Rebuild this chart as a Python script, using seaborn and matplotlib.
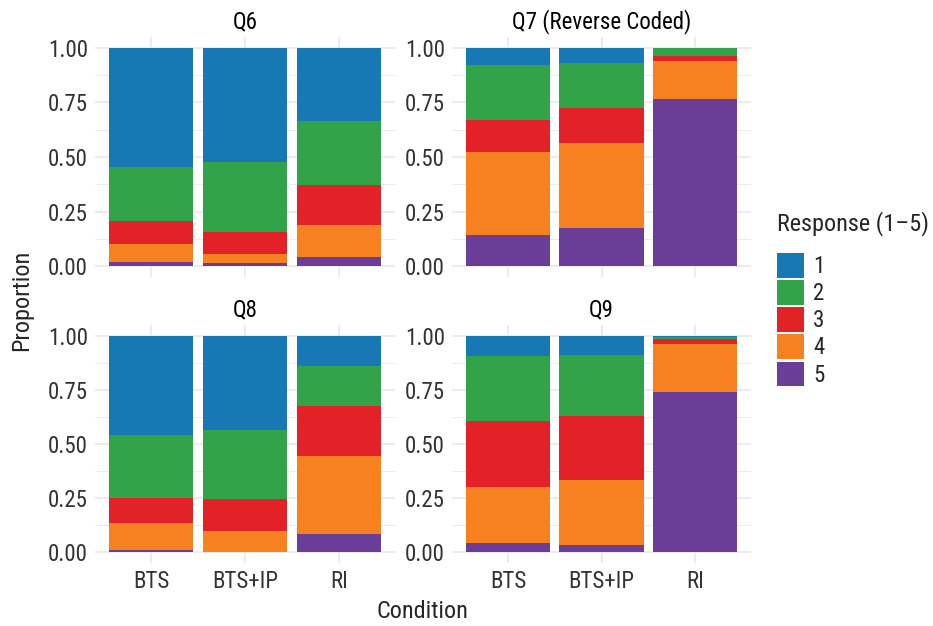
import numpy as np
import pandas as pd
import matplotlib
matplotlib.use("Agg")
import matplotlib.pyplot as plt
from matplotlib.patches import Patch
import seaborn as sns

# data: proportion of each response (1..5) per condition, per question
conditions = ["BTS", "BTS+IP", "RI"]
responses = ["1", "2", "3", "4", "5"]
questions = ["Q6", "Q7 (Reverse Coded)", "Q8", "Q9"]

# rows = condition, columns = response 1..5
q6 = [[0.547, 0.247, 0.107, 0.080, 0.019],
      [0.522, 0.321, 0.102, 0.041, 0.014],
      [0.335, 0.292, 0.183, 0.150, 0.040]]
q7 = [[0.077, 0.253, 0.148, 0.380, 0.142],
      [0.067, 0.207, 0.163, 0.390, 0.173],
      [0.000, 0.035, 0.025, 0.174, 0.766]]
q8 = [[0.458, 0.292, 0.117, 0.124, 0.009],
      [0.435, 0.320, 0.149, 0.093, 0.003],
      [0.139, 0.185, 0.232, 0.361, 0.083]]
q9 = [[0.093, 0.301, 0.307, 0.257, 0.042],
      [0.088, 0.281, 0.299, 0.301, 0.031],
      [0.005, 0.010, 0.021, 0.223, 0.741]]

colors = ["#1878b4", "#33a34a", "#e32227", "#f68121", "#6a3d98"]

sns.set_theme(style="whitegrid")
plt.rcParams["font.family"] = ["Roboto Condensed", "DejaVu Sans"]

W, H = 933, 626
fig = plt.figure(figsize=(W / 100, H / 100), dpi=100)

# axes boxes in pixels: left, right, top, bottom
boxes = [(95, 395, 37, 277), (452, 751, 37, 277),
         (95, 395, 325, 563), (452, 751, 325, 563)]

for q, vals, (l, r, t, b) in zip(questions, [q6, q7, q8, q9], boxes):
    ax = fig.add_axes([l / W, 1 - b / H, (r - l) / W, (b - t) / H])
    arr = np.array(vals)
    # cumulative from the bottom (response 5) up to response 1
    cum = np.cumsum(arr[:, ::-1], axis=1)[:, ::-1]
    for i, resp in enumerate(responses):
        df = pd.DataFrame({"Condition": conditions, "Proportion": cum[:, i]})
        sns.barplot(data=df, x="Condition", y="Proportion", color=colors[i],
                    width=0.9, linewidth=0, saturation=1, ax=ax)
    ax.set_xlim(-0.6, 2.6)
    ax.set_ylim(-0.05, 1.05)
    ax.set_yticks([0, 0.25, 0.5, 0.75, 1.0])
    ax.set_yticks([0.125, 0.375, 0.625, 0.875], minor=True)
    ax.set_yticklabels(["0.00", "0.25", "0.50", "0.75", "1.00"])
    ax.grid(True, which="major", color="#ebebeb", linewidth=1.3)
    ax.grid(True, which="minor", axis="y", color="#ebebeb", linewidth=0.7)
    ax.set_axisbelow(True)
    for s in ax.spines.values():
        s.set_visible(False)
    ax.set_xlabel("")
    ax.set_ylabel("")
    ax.set_title(q, fontsize=16.5, pad=6, color="black")
    if t < 300:
        ax.set_xticklabels([])
    ax.tick_params(axis="both", which="both", length=0, labelsize=16.5,
                   labelcolor="#333333", pad=5)

fig.text(422 / W, 1 - 611 / H, "Condition", ha="center", va="center", fontsize=17.5)
fig.text(22 / W, 1 - 300 / H, "Proportion", ha="center", va="center",
         rotation=90, fontsize=17.5)

handles = [Patch(facecolor=c, edgecolor="none") for c in colors]
leg = fig.legend(handles, responses, title="Response (1\u20135)", loc="upper left",
                 bbox_to_anchor=(777 / W, 1 - 211 / H), frameon=False, fontsize=16.5,
                 title_fontsize=17.5, handlelength=1.18, handleheight=1.3,
                 labelspacing=0.09, handletextpad=0.4, borderpad=0,
                 borderaxespad=0, alignment="left")
leg._legend_box.sep = 12  # a bit more room under the legend title

fig.savefig("out.png", dpi=100)
